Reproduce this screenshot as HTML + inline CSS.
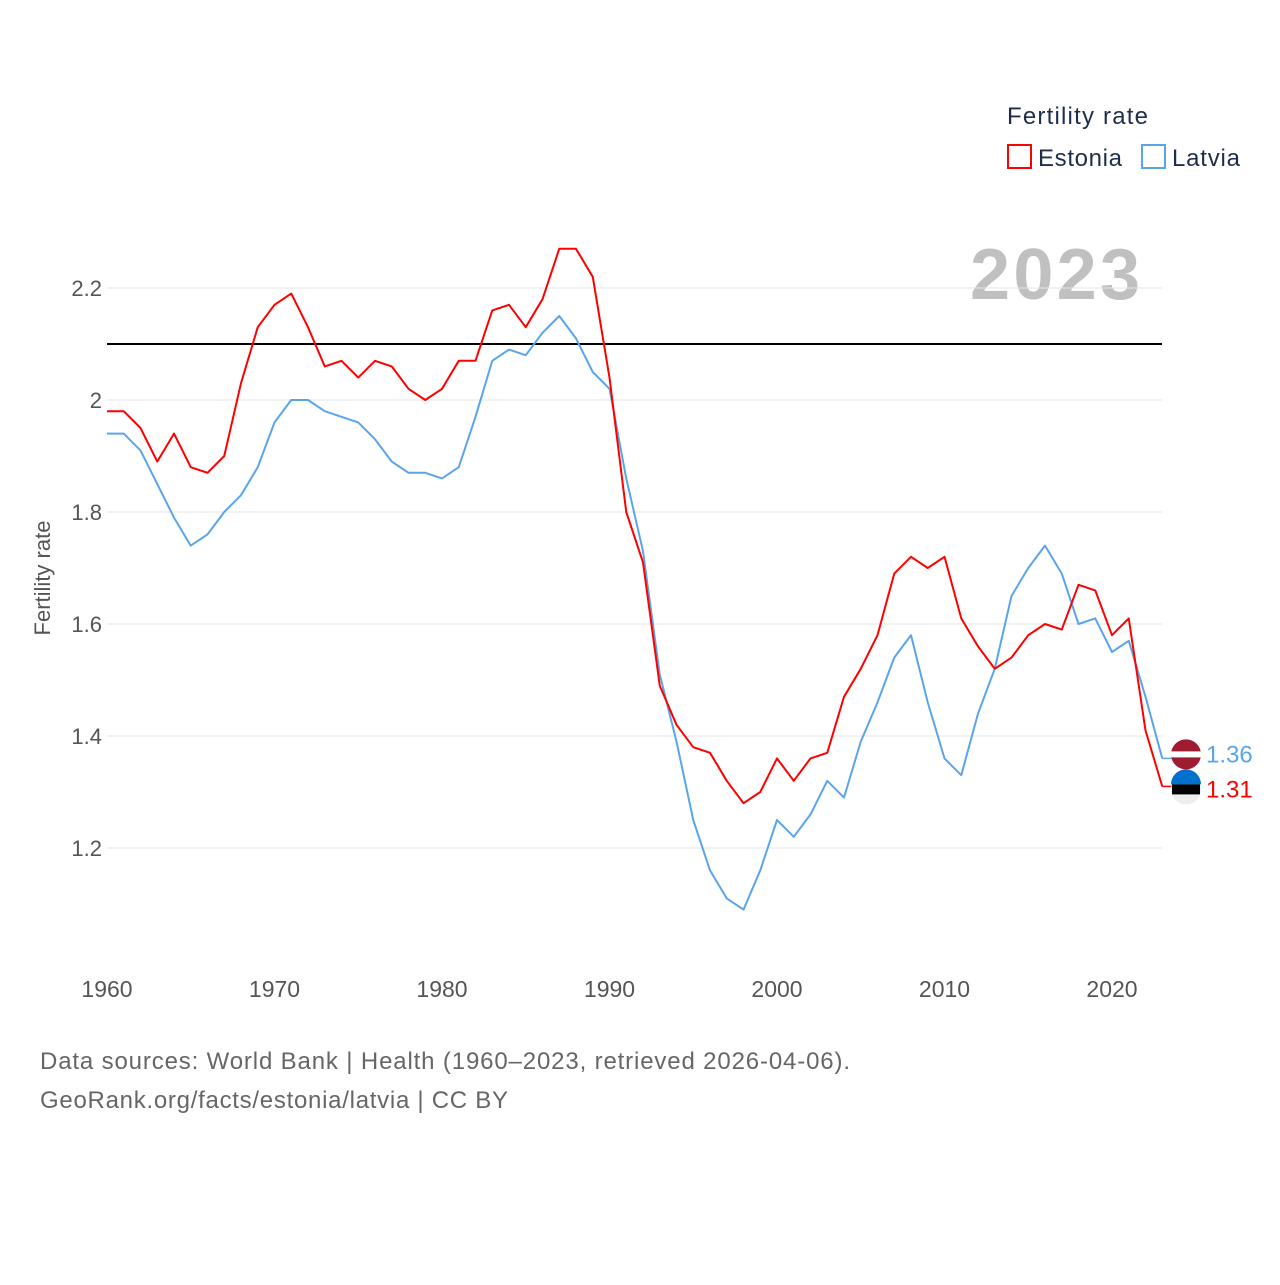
<!DOCTYPE html>
<html><head><meta charset="utf-8">
<style>
body{margin:0;background:#fff;font-family:"Liberation Sans",sans-serif;}
svg text{font-family:"Liberation Sans",sans-serif;}
</style></head>
<body>
<svg id="chart" width="1280" height="1280" xmlns="http://www.w3.org/2000/svg">
<text x="1007" y="124" font-size="24" fill="#1f2d4d" textLength="141">Fertility rate</text>
<g><rect x="1008" y="145" width="23" height="23" fill="none" stroke="#ff0000" stroke-width="2"/><text x="1038" y="166" font-size="24" fill="#1f2d4d" textLength="84">Estonia</text></g>
<g><rect x="1142" y="145" width="23" height="23" fill="none" stroke="#5aa5ea" stroke-width="2"/><text x="1172" y="166" font-size="24" fill="#1f2d4d" textLength="68">Latvia</text></g>
<text x="1140" y="299" font-size="72" font-weight="bold" fill="#c0c0c0" text-anchor="end" textLength="170">2023</text>
<g id="grid"></g>
<text transform="translate(50,578) rotate(-90)" font-size="22" fill="#555" text-anchor="middle">Fertility rate</text>
<g id="series"></g>
<text x="40" y="1069" font-size="24" fill="#666" textLength="810">Data sources: World Bank | Health (1960–2023, retrieved 2026-04-06).</text>
<text x="40" y="1108" font-size="24" fill="#666" textLength="468">GeoRank.org/facts/estonia/latvia | CC BY</text>
</svg>
<script>
const years=[];for(let y=1960;y<=2023;y++)years.push(y);
const estonia=[1.98,1.98,1.95,1.89,1.94,1.88,1.87,1.90,2.03,2.13,2.17,2.19,2.13,2.06,2.07,2.04,2.07,2.06,2.02,2.00,2.02,2.07,2.07,2.16,2.17,2.13,2.18,2.27,2.27,2.22,2.04,1.80,1.71,1.49,1.42,1.38,1.37,1.32,1.28,1.30,1.36,1.32,1.36,1.37,1.47,1.52,1.58,1.69,1.72,1.70,1.72,1.61,1.56,1.52,1.54,1.58,1.60,1.59,1.67,1.66,1.58,1.61,1.41,1.31];
const latvia=[1.94,1.94,1.91,1.85,1.79,1.74,1.76,1.80,1.83,1.88,1.96,2.00,2.00,1.98,1.97,1.96,1.93,1.89,1.87,1.87,1.86,1.88,1.97,2.07,2.09,2.08,2.12,2.15,2.11,2.05,2.02,1.86,1.73,1.51,1.39,1.25,1.16,1.11,1.09,1.16,1.25,1.22,1.26,1.32,1.29,1.39,1.46,1.54,1.58,1.46,1.36,1.33,1.44,1.52,1.65,1.70,1.74,1.69,1.60,1.61,1.55,1.57,1.47,1.36];
const yTicks=[1.2,1.4,1.6,1.8,2.0,2.2];
const yTickLabels=["1.2","1.4","1.6","1.8","2","2.2"];
const xTicks=[1960,1970,1980,1990,2000,2010,2020];
const refValue=[2.1];
const NS="http://www.w3.org/2000/svg";
const X=y=>107+(y-1960)*16.75;
const Y=v=>400-(v-2)*560;
function mk(tag,attrs,parent){const e=document.createElementNS(NS,tag);for(const k in attrs)e.setAttribute(k,attrs[k]);parent.appendChild(e);return e;}
const grid=document.getElementById('grid'),ser=document.getElementById('series');
yTicks.forEach((v,i)=>{
 const l=mk('line',{x1:107,x2:1162,y1:Y(v),y2:Y(v),stroke:'#e6e6e6'},grid);
 
 
 const t=mk('text',{x:102,y:Y(v)+8,'font-size':22,fill:'#555','text-anchor':'end'},grid);
 t.textContent=yTickLabels[i];
 
 
});
xTicks.forEach(yr=>{
 const t=mk('text',{x:X(yr),y:997,'font-size':23,fill:'#555','text-anchor':'middle'},grid);
 t.textContent=yr;
 
 
});
const ref=mk('line',{x1:107,x2:1162,y1:Y(refValue[0]),y2:Y(refValue[0]),stroke:'#000','stroke-width':2},ser);


function line(data,color,name){
 const p=mk('polyline',{points:data.map((v,i)=>X(years[i])+','+Y(v)).join(' '),fill:'none',stroke:color,'stroke-width':2,'stroke-linejoin':'round'},ser);
 
 
}
line(latvia,'#5aa5ea','latvia-line');
line(estonia,'#ff0000','estonia-line');
function endLabel(data,color,name,flag,off){
 const v=data[data.length-1],y=Y(v),x=X(years[years.length-1]);
 const g=mk('g',{},ser);
 
 
 mk('line',{x1:x,x2:x+12,y1:y,y2:y,stroke:color,'stroke-width':1.5},g);
 const cx=1186,cy=y+off;
 if(flag==='lv'){mk('circle',{cx:cx,cy:cy,r:15,fill:'#9e1b32'},g);mk('rect',{x:cx-15,y:cy-3,width:30,height:6,fill:'#fff'},g);}
 else{mk('circle',{cx:cx,cy:cy,r:15,fill:'#eee'},g);mk('path',{d:`M${cx-15},${cy-5} A15,15 0 0 1 ${cx+15},${cy-5} Z`,fill:'#0072ce'},g);mk('rect',{x:cx-14,y:cy-5,width:28,height:10,fill:'#000'},g);}
 const t=mk('text',{x:1206,y:cy+8,'font-size':24,fill:color},g);
 t.textContent=v.toFixed(2);
}
endLabel(latvia,'#5aa5ea','latvia-end-label','lv',-4);
endLabel(estonia,'#ff0000','estonia-end-label','ee',3);
</script>
</body></html>
